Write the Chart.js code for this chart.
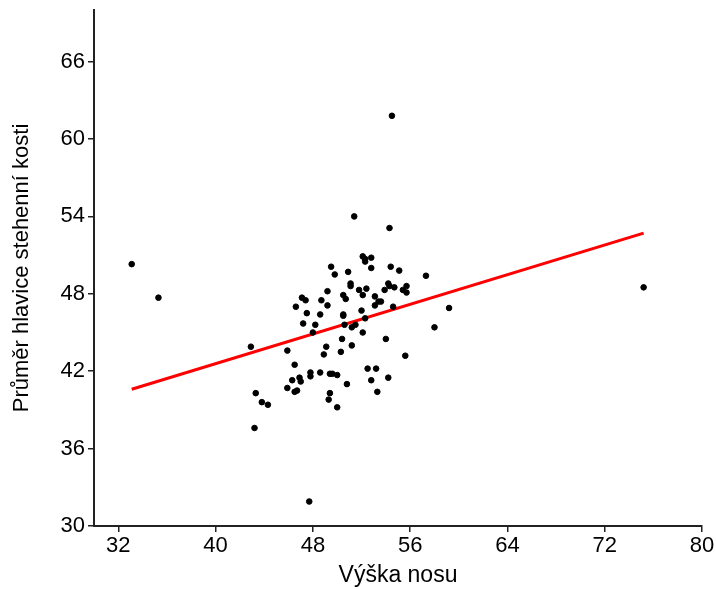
<!DOCTYPE html>
<html>
<head>
<meta charset="utf-8">
<script src="https://cdn.jsdelivr.net/npm/chart.js@4/dist/chart.umd.min.js"></script>
<style>
  html, body { margin: 0; padding: 0; background: #fff; }
  #wrap { width: 716px; height: 589px; }
</style>
</head>
<body>
<div id="wrap"><canvas id="chart" width="716" height="589"></canvas></div>
<script>
// Výška nosu (x) vs. průměr hlavice stehenní kosti (y)
const noseHeight = [
  33.1, 35.3, 42.9, 43.2, 43.3, 43.8, 44.3, 45.9, 45.9, 46.5,
  46.3, 46.5, 46.7, 46.6, 46.9, 47.0, 47.1, 47.4, 47.2, 47.5,
  47.7, 47.8, 47.8, 48.0, 48.2, 48.6, 48.7, 48.6, 48.9, 49.1,
  49.2, 49.2, 49.3, 49.4, 49.4, 49.5, 49.6, 49.8, 50.0, 50.0,
  50.3, 50.4, 50.5, 50.5, 50.5, 50.7, 50.6, 50.8, 50.9, 51.1,
  51.1, 51.2, 51.2, 51.4, 51.5, 51.8, 52.0, 52.1, 52.1, 52.1,
  52.3, 52.3, 52.3, 52.4, 52.5, 52.8, 52.8, 52.8, 53.1, 53.1,
  53.2, 53.3, 53.4, 53.6, 53.9, 54.0, 54.2, 54.2, 54.3, 54.4,
  54.3, 54.5, 54.6, 54.7, 55.1, 55.4, 55.6, 55.7, 55.7, 57.3,
  58.0, 59.2, 75.2
];
const femurHead = [
  50.3, 47.7, 43.9, 37.6, 40.3, 39.6, 39.4, 43.6, 40.7, 42.5,
  41.3, 40.4, 40.5, 47.0, 41.5, 41.2, 47.7, 47.5, 45.7, 46.5,
  31.9, 41.9, 41.6, 45.0, 45.6, 46.4, 47.5, 41.9, 43.3, 43.9,
  48.2, 47.1, 39.8, 41.8, 40.3, 50.1, 41.8, 49.5, 41.7, 39.2,
  43.5, 44.5, 47.9, 46.4, 46.3, 47.6, 45.6, 41.0, 49.7, 48.8,
  48.6, 44.0, 45.4, 54.0, 45.6, 48.3, 46.7, 47.9, 45.0, 50.9,
  50.7, 50.5, 46.1, 48.4, 42.2, 50.8, 50.0, 41.3, 47.1, 47.8,
  42.2, 40.4, 47.4, 47.4, 48.3, 44.5, 48.8, 41.5, 53.1, 50.1,
  48.6, 61.8, 47.0, 48.5, 49.8, 48.3, 43.2, 48.6, 48.1, 49.4,
  45.4, 46.9, 48.5
];

// regression line endpoints as drawn
const fitX = [33.1, 75.2];
const fitY = [40.6, 52.7];

const xTicks = [32, 40, 48, 56, 64, 72, 80];
const yTicks = [30, 36, 42, 48, 54, 60, 66];

const FONT = "'Liberation Sans', Arial, sans-serif";
const AXIS = "#222";

const points = noseHeight.map((x, i) => ({ x, y: femurHead[i] }));
const fit = fitX.map((x, i) => ({ x, y: fitY[i] }));

new Chart(document.getElementById("chart"), {
  type: "scatter",
  data: {
    datasets: [
      {
        data: points,
        backgroundColor: "#000",
        borderColor: "#000",
        pointRadius: 2.8,
        pointHoverRadius: 2.8,
        order: 1
      },
      {
        type: "line",
        data: fit,
        borderColor: "#ff0000",
        borderWidth: 3,
        pointRadius: 0,
        fill: false,
        order: 2
      }
    ]
  },
  options: {
    responsive: false,
    animation: false,
    layout: { padding: { top: 10, right: 14, left: 0, bottom: 0 } },
    plugins: {
      legend: { display: false },
      tooltip: { enabled: false }
    },
    scales: {
      x: {
        type: "linear",
        min: 30,
        max: 80,
        afterBuildTicks: (s) => { s.ticks = xTicks.map(v => ({ value: v })); },
        afterFit: (s) => { s.height = 63; },
        border: { display: true, color: AXIS, width: 2 },
        grid: { display: true, drawOnChartArea: false, drawTicks: true, tickLength: 6, color: AXIS, lineWidth: 1.5 },
        ticks: { color: "#000", font: { family: FONT, size: 22 }, padding: 1, maxRotation: 0 },
        title: { display: true, text: "Výška nosu", color: "#000", font: { family: FONT, size: 23 }, padding: { top: 0, bottom: 0 } }
      },
      y: {
        type: "linear",
        min: 30,
        max: 70,
        afterBuildTicks: (s) => { s.ticks = yTicks.map(v => ({ value: v })); },
        afterFit: (s) => { s.width = 94; s.paddingTop = 0; s.paddingBottom = 0; },
        border: { display: true, color: AXIS, width: 2 },
        grid: { display: true, drawOnChartArea: false, drawTicks: true, tickLength: 6, color: AXIS, lineWidth: 1.5 },
        ticks: { color: "#000", font: { family: FONT, size: 22 }, padding: 3 },
        title: { display: true, text: "Průměr hlavice stehenní kosti", color: "#000", font: { family: FONT, size: 22 }, padding: { top: 9, bottom: 0 } }
      }
    }
  }
});
</script>
</body>
</html>
